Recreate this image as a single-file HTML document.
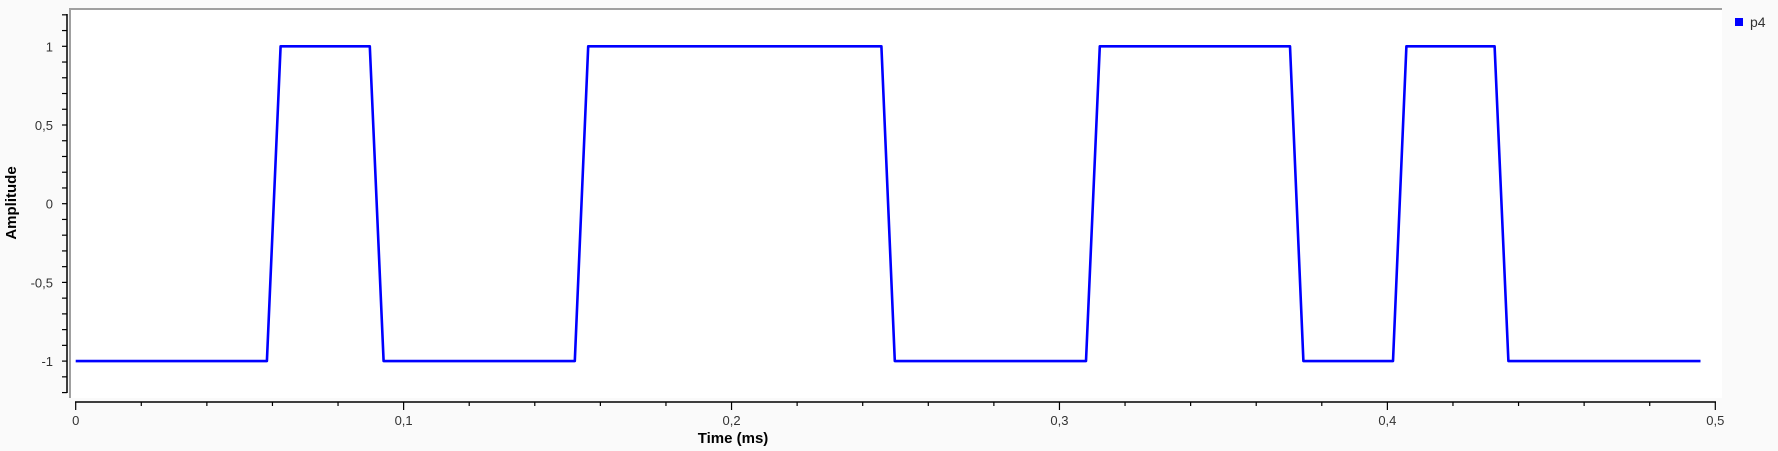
<!DOCTYPE html>
<html><head><meta charset="utf-8"><style>
html,body{margin:0;padding:0;background:#fafafa;}
svg{display:block;font-family:"Liberation Sans",sans-serif;}
</style></head><body>
<svg id="chart" width="1778" height="451">
<rect x="70" y="9" width="1652" height="389" fill="#ffffff"/>
<path d="M70 398 V9 H1722" fill="none" stroke="#a0a0a0" stroke-width="2"/>
<g id="axes"></g>
<path id="series" fill="none" stroke="#0000ff" stroke-width="2.6" stroke-linejoin="round"/>
<text x="16" y="203" transform="rotate(-90 16 203)" text-anchor="middle" font-weight="bold" font-size="15">Amplitude</text>
<text x="733" y="443" text-anchor="middle" font-weight="bold" font-size="15">Time (ms)</text>
<rect x="1735" y="18" width="8" height="8" fill="#0000ff"/>
<text x="1750" y="27" font-size="14" fill="#333">p4</text>
</svg>
<script>
const times=[0,0.0583,0.0625,0.0897,0.0939,0.1522,0.1563,0.2457,0.2498,0.3081,0.3123,0.3703,0.3744,0.4017,0.4058,0.4327,0.4369,0.4955];
const values=[-1,-1,1,1,-1,-1,1,1,-1,-1,1,1,-1,-1,1,1,-1,-1];
const xTicks=[0,0.1,0.2,0.3,0.4,0.5];
const xTickLabels=["0","0,1","0,2","0,3","0,4","0,5"];
const yTicks=[-1,-0.5,0,0.5,1];
const yTickLabels=["-1","-0,5","0","0,5","1"];
const X=t=>75.7+t*3279.2;
const Y=v=>203.7-v*157.4;
const NS="http://www.w3.org/2000/svg";
const ax=document.getElementById('axes');
function mk(tag,attrs){const e=document.createElementNS(NS,tag);for(const k in attrs)e.setAttribute(k,attrs[k]);ax.appendChild(e);return e;}
let l=mk('line',{x1:67,y1:14,x2:67,y2:393,stroke:'#000','stroke-width':1.5});


l=mk('line',{x1:75,y1:402,x2:1716,y2:402,stroke:'#000','stroke-width':1.5});


for(let i=0;i<=25;i++){const t=i*0.02;const major=i%5===0;
 const e=mk('line',{x1:X(t),x2:X(t),y1:402,y2:major?410:406,stroke:'#000','stroke-width':1.2});
 
 }
for(let i=-12;i<=12;i++){const v=i*0.1;
 const e=mk('line',{x1:62,x2:67,y1:Y(v),y2:Y(v),stroke:'#000','stroke-width':1.2});
 
 }
xTicks.forEach((t,i)=>{const e=mk('text',{x:X(t),y:425,'text-anchor':'middle','font-size':13,fill:'#333'});e.textContent=xTickLabels[i];
 
 });
yTicks.forEach((v,i)=>{const e=mk('text',{x:53,y:Y(v)+5,'text-anchor':'end','font-size':13,fill:'#333'});e.textContent=yTickLabels[i];
 
 });
document.getElementById('series').setAttribute('d',times.map((t,i)=>(i?'L':'M')+X(t).toFixed(1)+' '+Y(values[i]).toFixed(1)).join(' '));
</script>
</body></html>
